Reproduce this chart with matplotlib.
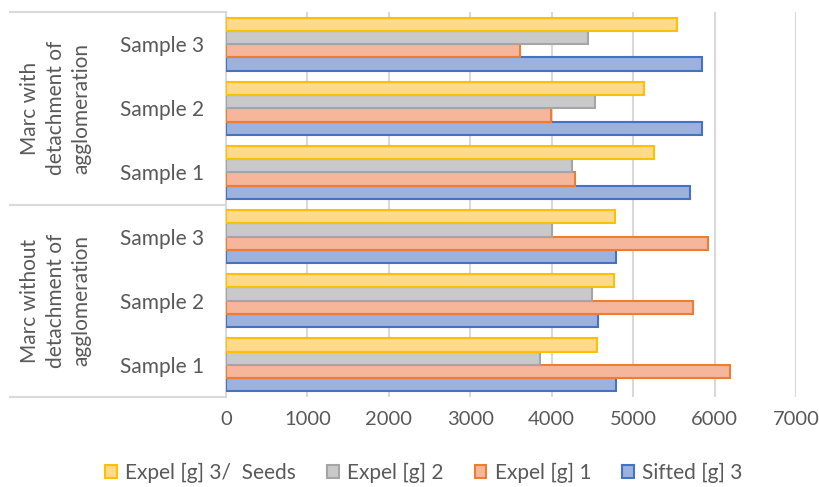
import numpy as np
import matplotlib.pyplot as plt
from matplotlib.lines import Line2D
from matplotlib.patches import Patch
import matplotlib.transforms as mtransforms

plt.rcParams['font.family'] = ['Lato', 'DejaVu Sans']

# categories bottom -> top
samples = ['Sample 1', 'Sample 2', 'Sample 3', 'Sample 1', 'Sample 2', 'Sample 3']
groups = ['Marc without\ndetachment of\nagglomeration',
          'Marc with\ndetachment of\nagglomeration']

sifted_3 = [4795, 4570, 4795, 5700, 5840, 5850]
expel_1 = [6190, 5730, 5925, 4280, 3990, 3610]
expel_2 = [3860, 4500, 4000, 4250, 4530, 4450]
expel_3_seeds = [4555, 4760, 4775, 5250, 5130, 5540]

series = [('Sifted [g] 3', sifted_3, '#9DB1DF', '#4472C4'),
          ('Expel [g] 1', expel_1, '#F5B69B', '#ED7D31'),
          ('Expel [g] 2', expel_2, '#C9C9C9', '#A5A5A5'),
          ('Expel [g] 3/  Seeds', expel_3_seeds, '#FFD98C', '#FFC000')]

txt = '#595959'
grid = '#D9D9D9'

fig = plt.figure(figsize=(8.19, 4.87), dpi=100)
ax = fig.add_axes([226/819, 1-397/487, (796-226)/819, (397-12)/487])

y = np.arange(len(samples))
h = 0.207
for i, (name, vals, fc, ec) in enumerate(series):
    ax.barh(y + (i - 1.5)*h, vals, height=h, color=fc, edgecolor=ec,
            linewidth=1.5, label=name, zorder=3)

ax.set_xlim(0, 7000)
ax.set_ylim(-0.5, 5.5)
ax.set_xticks(range(0, 7001, 1000))
ax.xaxis.grid(True, color=grid, linewidth=1.5, zorder=0)
ax.tick_params(axis='x', length=0, labelsize=14.5, labelcolor=txt, pad=10)
ax.set_yticks(y)
ax.set_yticklabels(samples)
ax.tick_params(axis='y', length=0, labelsize=15, labelcolor=txt, pad=16)
for s in ['top', 'right', 'bottom']:
    ax.spines[s].set_visible(False)
ax.spines['left'].set_color(grid)
ax.spines['left'].set_linewidth(1.5)

# multi-level category box
tr = mtransforms.blended_transform_factory(fig.transFigure, ax.transData)
for yy in [-0.5, 2.5, 5.5]:
    fig.add_artist(Line2D([10/819, 226/819], [yy, yy], transform=tr,
                          color=grid, linewidth=1.5))
for k, g in enumerate(groups):
    fig.text(56/819, 1 + 3*k, g, transform=tr, rotation=90, ha='center',
             va='center', fontsize=15, color=txt, linespacing=1.35)

handles = [Patch(facecolor=fc, edgecolor=ec, linewidth=1.5, label=name)
           for name, vals, fc, ec in series[::-1]]
fig.legend(handles=handles, loc='center', bbox_to_anchor=(424/819, 1 - 473/487),
           ncol=4, frameon=False, fontsize=15, labelcolor=txt,
           handlelength=0.55, handleheight=0.55, handletextpad=0.4,
           columnspacing=1.5)

fig.savefig('out.png', dpi=100)
